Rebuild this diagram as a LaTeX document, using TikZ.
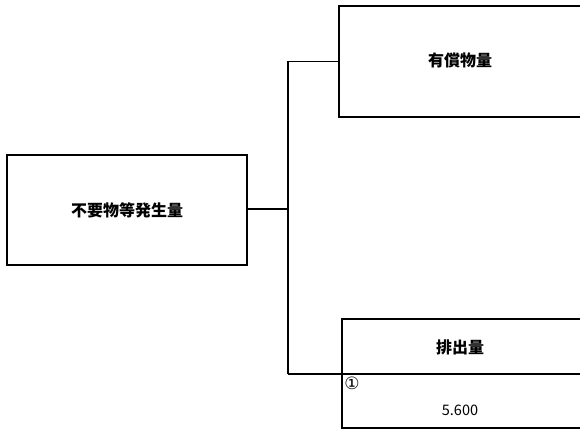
\documentclass[tikz,border=0pt]{standalone}
\usepackage{fontspec}
\newfontfamily\jpfont{Noto Sans CJK JP}
\newfontfamily\symfont{DejaVu Sans}
\usetikzlibrary{positioning}

\tikzset{
  flowbox/.style={draw, line width=1.3pt, inner sep=0pt, font=\jpfont\bfseries\fontsize{16}{18}\selectfont},
  boxlabel/.style={font=\jpfont\bfseries\fontsize{16}{18}\selectfont},
  link/.style={line width=1.2pt}
}

\begin{document}
\begin{tikzpicture}[x=1pt,y=-1pt]
  \useasboundingbox (0,0) rectangle (580,430);
  \clip (0,0) rectangle (580,430);
  % source box
  \node[flowbox, minimum width=240pt, minimum height=110pt] (source) at (127,210) {不要物等発生量};
  % right hand boxes, cut by the page edge
  \node[flowbox, minimum width=260pt, minimum height=111pt] (valued) at (469,61.5) {};
  \node[boxlabel] (valuedlbl) at (460,60) {有償物量};
  \node[flowbox, minimum width=258pt, minimum height=109pt] (output) at (471,373.5) {};
  \node[boxlabel] (outputlbl) at (460,347) {排出量};
  \node[font=\symfont\fontsize{17}{18}\selectfont] (mark) at (352,383) {①};
  \node[font=\jpfont\fontsize{14.5}{16}\selectfont] (amount) at (460,410) {5.600};
  % tree connectors
  \coordinate (fork) at (288,209);
  \coordinate (forkdown) at (288,374);
  \coordinate (rimright) at (600,374);
  \draw[link] (source.east |- fork) -- (fork);
  \draw[link] (fork |- valued.west) -- (valued.west);
  \draw[link] (fork |- valued.west) -- (forkdown);
  \draw[link] (forkdown) -- (rimright);
\end{tikzpicture}
\end{document}
